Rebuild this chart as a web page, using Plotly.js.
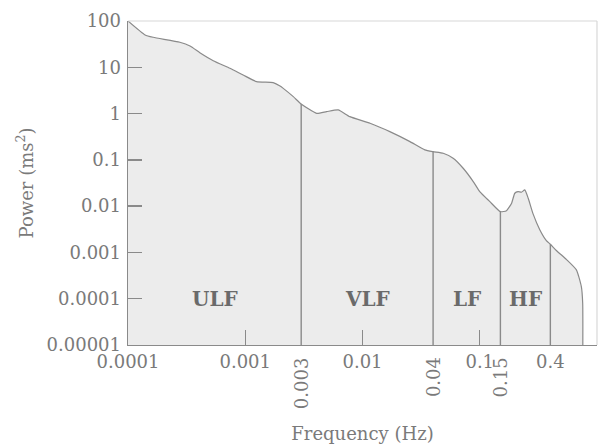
<!DOCTYPE html>
<html><head><meta charset="utf-8">
<script src="https://cdn.plot.ly/plotly-3.0.1.min.js"></script>
<style>html,body{margin:0;padding:0;background:#fff}#chart{width:600px;height:447px}</style>
</head><body><div id="chart"></div>
<script>
// Spectrum
const freq = [0.0001, 0.00014, 0.000164, 0.000277, 0.000338, 0.00041, 0.000533, 0.00074, 0.00096, 0.00125, 0.00173, 0.00198, 0.00211, 0.00257, 0.003, 0.00406, 0.00494, 0.0062, 0.0078, 0.0116, 0.0171, 0.0254, 0.034, 0.04, 0.0488, 0.0593, 0.0722, 0.088, 0.1, 0.122, 0.15, 0.169, 0.187, 0.199, 0.212, 0.227, 0.242, 0.259, 0.285, 0.325, 0.37, 0.4, 0.45, 0.55, 0.667, 0.736, 0.755, 0.757];
const power = [100, 50, 44.5, 34.7, 28.8, 20.7, 13.9, 9.5, 6.8, 4.9, 4.65, 3.94, 3.5, 2.32, 1.61, 1.01, 1.1, 1.2, 0.857, 0.617, 0.407, 0.248, 0.164, 0.15, 0.139, 0.108, 0.0658, 0.034, 0.0206, 0.0125, 0.0076, 0.008, 0.0116, 0.019, 0.0206, 0.02, 0.0224, 0.0148, 0.0068, 0.0031, 0.0018, 0.0015, 0.0011, 0.0007, 0.00042, 0.00018, 0.00008, 0.00001];

const bandLimits = [0.0001, 0.003, 0.04, 0.15, 0.4];
const bandNames = ['ULF', 'VLF', 'LF', 'HF'];
const bandEdges = [0.003, 0.04, 0.15, 0.4];

const xTickVals = [0.0001, 0.001, 0.01, 0.1, 0.4, 1];
const xTickText = ['0.0001', '0.001', '0.01', '0.1', '0.4', '1'];
const xRotVals = [0.003, 0.04, 0.15];
const xRotText = ['0.003', '0.04', '0.15'];
const yTickVals = [0.00001, 0.0001, 0.001, 0.01, 0.1, 1, 10, 100];
const yTickText = ['0.00001', '0.0001', '0.001', '0.01', '0.1', '1', '10', '100'];

const yMin = 0.00001;
const labelLevel = 0.0001;

function interpLog(f) {
  const lf = Math.log10(f);
  for (let i = 0; i < freq.length - 1; i++) {
    const a = Math.log10(freq[i]), b = Math.log10(freq[i + 1]);
    if (lf >= a && lf <= b) {
      const t = (lf - a) / (b - a);
      return Math.pow(10, Math.log10(power[i]) + t * (Math.log10(power[i + 1]) - Math.log10(power[i])));
    }
  }
  return yMin;
}

const serif = '"DejaVu Serif", "Liberation Serif", serif';
const grey = '#8a8a8a';
const textGrey = '#7a7a7a';

const fillTrace = {
  x: freq.concat([freq[0]]),
  y: power.concat([yMin]),
  mode: 'lines', fill: 'toself', fillcolor: '#ececec',
  line: {width: 0}, hoverinfo: 'skip', showlegend: false
};
const curve = {
  x: freq, y: power, mode: 'lines',
  line: {color: grey, width: 1.2, shape: 'spline', smoothing: 0.5}, showlegend: false
};
const bx = [], by = [];
bandEdges.forEach(b => { bx.push(b, b, null); by.push(yMin, interpLog(b), null); });
const bandLines = {x: bx, y: by, mode: 'lines', line: {color: grey, width: 1.4}, showlegend: false};

const annotations = [];
for (let i = 0; i < bandNames.length; i++) {
  annotations.push({
    x: Math.log10(Math.sqrt(bandLimits[i] * bandLimits[i + 1])), y: Math.log10(labelLevel),
    xref: 'x', yref: 'y', text: '<b>' + bandNames[i] + '</b>', showarrow: false,
    font: {family: serif, size: 20, color: '#6a6a6a'}
  });
}
xRotVals.forEach((v, i) => {
  annotations.push({
    x: Math.log10(v), y: 0, xref: 'x', yref: 'paper', text: xRotText[i], showarrow: false,
    textangle: -90, yanchor: 'top', xanchor: 'center', yshift: -10,
    font: {family: serif, size: 18, color: textGrey}
  });
});

const layout = {
  width: 600, height: 447,
  margin: {l: 128, r: 3, t: 21, b: 102},
  paper_bgcolor: '#fff', plot_bgcolor: '#fff',
  xaxis: {
    type: 'log', range: [-4, 0], tickmode: 'array', tickvals: xTickVals, ticktext: xTickText,
    ticks: 'inside', ticklen: 15, tickwidth: 1.4, tickcolor: grey,
    showline: true, linecolor: grey, linewidth: 1.4, showgrid: false, zeroline: false,
    tickfont: {family: serif, size: 18, color: textGrey},
    title: {text: 'Frequency (Hz)', font: {family: serif, size: 18, color: textGrey}, standoff: 56}
  },
  yaxis: {
    type: 'log', range: [-5, 2], tickmode: 'array', tickvals: yTickVals, ticktext: yTickText,
    ticks: 'inside', ticklen: 14, tickwidth: 1.4, tickcolor: grey,
    showline: true, linecolor: grey, linewidth: 1.4, showgrid: false, zeroline: false,
    tickfont: {family: serif, size: 18, color: textGrey}, ticklabelstandoff: 2,
    title: {text: 'Power (ms<sup>2</sup>)', font: {family: serif, size: 18, color: textGrey}, standoff: 8}
  },
  shapes: [
    {type: 'line', xref: 'paper', yref: 'paper', x0: 0, x1: 1, y0: 1, y1: 1, line: {color: '#d8d8d8', width: 1.2}},
    {type: 'line', xref: 'paper', yref: 'paper', x0: 1, x1: 1, y0: 0, y1: 1, line: {color: '#d8d8d8', width: 1.2}}
  ],
  annotations: annotations
};

Plotly.newPlot('chart', [fillTrace, curve, bandLines], layout, {displayModeBar: false, staticPlot: true});
</script>
</body></html>
